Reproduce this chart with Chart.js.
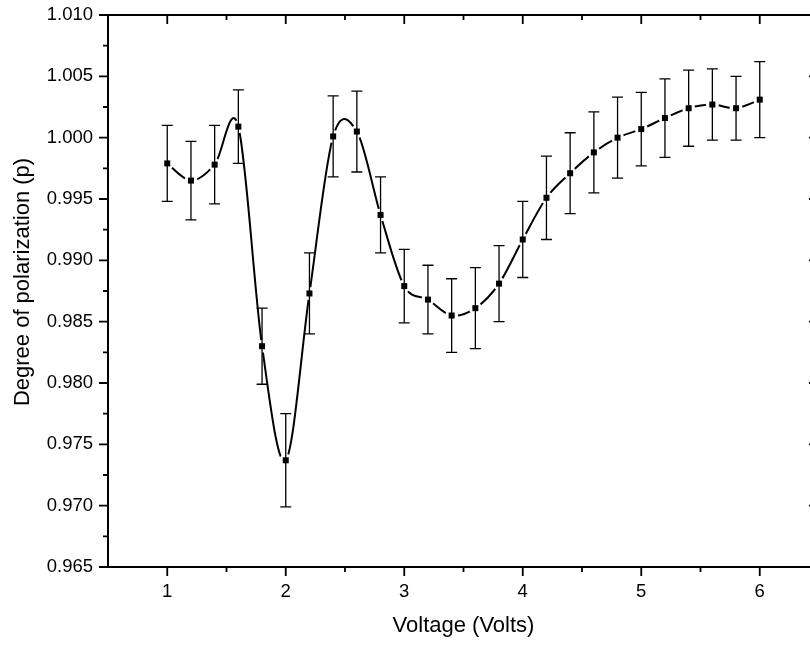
<!DOCTYPE html>
<html>
<head>
<meta charset="utf-8">
<script src="https://cdn.jsdelivr.net/npm/chart.js@4.4.0/dist/chart.umd.min.js"></script>
<style>
  html, body { margin: 0; padding: 0; background: #fff; overflow: hidden; }
  #wrap { width: 810px; height: 646px; overflow: hidden; }
</style>
</head>
<body>
<div id="wrap"><canvas id="myChart" width="830" height="646"></canvas></div>
<script>
// data
const voltage = [1.0, 1.2, 1.4, 1.6, 1.8, 2.0, 2.2, 2.4, 2.6, 2.8, 3.0, 3.2, 3.4,
                 3.6, 3.8, 4.0, 4.2, 4.4, 4.6, 4.8, 5.0, 5.2, 5.4, 5.6, 5.8, 6.0];
const polarization = [0.9979, 0.9965, 0.9978, 1.0009, 0.9830, 0.9737, 0.9873, 1.0001, 1.0005,
                      0.9937, 0.9879, 0.9868, 0.9855, 0.9861, 0.9881, 0.9917, 0.9951, 0.9971,
                      0.9988, 1.0000, 1.0007, 1.0016, 1.0024, 1.0027, 1.0024, 1.0031];
const errors = [0.0031, 0.0032, 0.0032, 0.0030, 0.0031, 0.0038, 0.0033, 0.0033, 0.0033,
                0.0031, 0.0030, 0.0028, 0.0030, 0.0033, 0.0031, 0.0031, 0.0034, 0.0033,
                0.0033, 0.0033, 0.0030, 0.0032, 0.0031, 0.0029, 0.0026, 0.0031];
const xTicks = [1, 2, 3, 4, 5, 6];
const yTicks = [0.965, 0.970, 0.975, 0.980, 0.985, 0.990, 0.995, 1.000, 1.005, 1.010];
const xTitle = 'Voltage (Volts)';
const yTitle = 'Degree of polarization (p)';

const fontFamily = '"Liberation Sans", Arial, sans-serif';

// minor ticks sit halfway between the major ones
const halfway = (arr) => arr.slice(1).map((v, i) => (v + arr[i]) / 2);

// catmull-rom style tangents instead of chart.js distance weighted ones,
// closer to the spline the original plot was drawn with
const splineTangents = {
  id: 'splineTangents',
  beforeDatasetDraw(chart, args) {
    const meta = args.meta;
    meta.dataset.updateControlPoints(chart.chartArea, meta.iScale.axis);
    const pts = meta.data;
    pts.forEach((p, i) => {
      const prev = pts[Math.max(i - 1, 0)];
      const next = pts[Math.min(i + 1, pts.length - 1)];
      const dx = (next.x - prev.x) / 6;
      const dy = (next.y - prev.y) / 6;
      p.cp1x = p.x - dx; p.cp1y = p.y - dy;
      p.cp2x = p.x + dx; p.cp2y = p.y + dy;
    });
  }
};

const origenStyle = {
  id: 'origenStyle',
  afterDatasetsDraw(chart) {
    const { ctx, chartArea: a, scales: { x, y } } = chart;
    const meta = chart.getDatasetMeta(0);
    ctx.save();

    // little gap in the curve round every point
    ctx.fillStyle = '#fff';
    meta.data.forEach((pt) => {
      ctx.beginPath();
      ctx.arc(pt.x, pt.y, 6.5, 0, Math.PI * 2);
      ctx.fill();
    });

    // error bars
    ctx.strokeStyle = '#000';
    ctx.lineWidth = 1.3;
    voltage.forEach((v, i) => {
      const px = x.getPixelForValue(v);
      const top = y.getPixelForValue(polarization[i] + errors[i]);
      const bot = y.getPixelForValue(polarization[i] - errors[i]);
      ctx.beginPath();
      ctx.moveTo(px, top); ctx.lineTo(px, bot);
      ctx.moveTo(px - 5.5, top); ctx.lineTo(px + 5.5, top);
      ctx.moveTo(px - 5.5, bot); ctx.lineTo(px + 5.5, bot);
      ctx.stroke();
    });

    // square markers
    ctx.fillStyle = '#000';
    meta.data.forEach((pt) => ctx.fillRect(pt.x - 3, pt.y - 3, 6, 6));

    // frame
    ctx.lineWidth = 2;
    ctx.strokeRect(a.left, a.top, a.right - a.left, a.bottom - a.top);

    ctx.lineWidth = 1.8;
    ctx.beginPath();
    xTicks.forEach((v) => {
      const px = x.getPixelForValue(v);
      ctx.moveTo(px, a.bottom); ctx.lineTo(px, a.bottom + 9);
      ctx.moveTo(px, a.top); ctx.lineTo(px, a.top + 9);
    });
    halfway(xTicks).forEach((v) => {
      const px = x.getPixelForValue(v);
      ctx.moveTo(px, a.bottom); ctx.lineTo(px, a.bottom + 5);
      ctx.moveTo(px, a.top); ctx.lineTo(px, a.top + 5);
    });
    yTicks.forEach((v) => {
      const py = y.getPixelForValue(v);
      ctx.moveTo(a.left - 9, py); ctx.lineTo(a.left, py);
      ctx.moveTo(a.right - 10, py); ctx.lineTo(a.right, py);
    });
    halfway(yTicks).forEach((v) => {
      const py = y.getPixelForValue(v);
      ctx.moveTo(a.left - 5, py); ctx.lineTo(a.left, py);
      ctx.moveTo(a.right - 5, py); ctx.lineTo(a.right, py);
    });
    ctx.stroke();

    // axis titles
    ctx.fillStyle = '#000';
    ctx.font = '22px ' + fontFamily;
    ctx.textAlign = 'center';
    ctx.textBaseline = 'alphabetic';
    ctx.fillText(xTitle, (a.left + a.right) / 2, 632);

    ctx.translate(28.5, (a.top + a.bottom) / 2 - 9);
    ctx.rotate(-Math.PI / 2);
    ctx.fillText(yTitle, 0, 0);

    ctx.restore();
  }
};

const ctx = document.getElementById('myChart');

new Chart(ctx, {
  type: 'line',
  data: {
    datasets: [{
      label: 'p',
      data: voltage.map((v, i) => ({ x: v, y: polarization[i] })),
      borderColor: '#000',
      borderWidth: 2,
      pointRadius: 0,
      tension: 0.4,
      fill: false
    }]
  },
  options: {
    responsive: false,
    animation: false,
    devicePixelRatio: 1,
    layout: { padding: { left: 0, top: 15, right: 11, bottom: 0 } },
    plugins: {
      legend: { display: false },
      tooltip: { enabled: false }
    },
    scales: {
      x: {
        type: 'linear',
        min: 0.5,
        max: 6.5,
        afterBuildTicks: (s) => { s.ticks = xTicks.map((v) => ({ value: v })); },
        afterFit: (s) => { s.height = 79; },
        grid: { display: false, drawTicks: false },
        border: { display: false },
        ticks: {
          color: '#000',
          font: { family: fontFamily, size: 18.5 },
          padding: 14,
          maxRotation: 0,
          autoSkip: false,
          callback: (v) => String(v)
        }
      },
      y: {
        min: 0.965,
        max: 1.010,
        afterBuildTicks: (s) => { s.ticks = yTicks.map((v) => ({ value: v })); },
        afterFit: (s) => {
          s.width = 108;
          // the label overhang should not push the plot down
          s.paddingTop = 0;
          s.paddingBottom = 0;
        },
        grid: { display: false, drawTicks: false },
        border: { display: false },
        ticks: {
          color: '#000',
          font: { family: fontFamily, size: 18.5 },
          padding: 15,
          autoSkip: false,
          callback: (v) => v.toFixed(3)
        }
      }
    }
  },
  plugins: [splineTangents, origenStyle]
});
</script>
</body>
</html>
